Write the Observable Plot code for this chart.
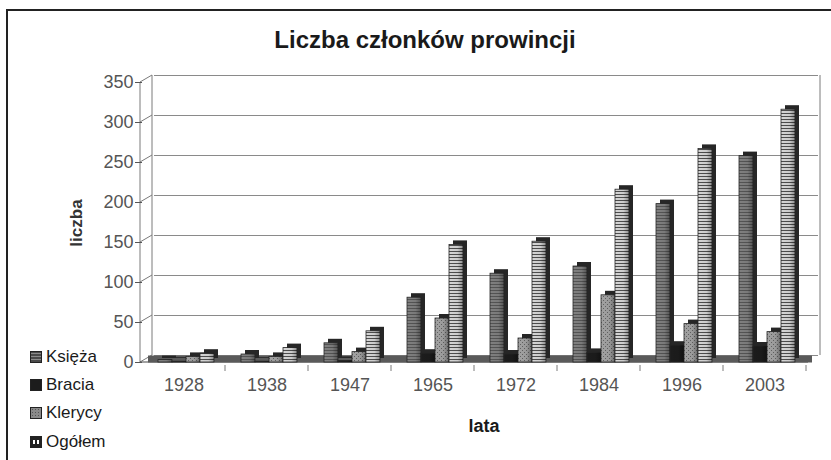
<!DOCTYPE html>
<html>
<head>
<meta charset="utf-8">
<script src="https://cdn.jsdelivr.net/npm/d3@7"></script>
<script src="https://cdn.jsdelivr.net/npm/@observablehq/plot@0.6"></script>
<style>
html,body{margin:0;padding:0;background:#fff;}
#wrap{position:relative;width:831px;height:460px;overflow:hidden;font-family:"Liberation Sans",Arial,Helvetica,sans-serif;}
#frame{position:absolute;left:6px;top:9px;width:900px;height:600px;border-left:2px solid #222;border-top:2px solid #222;}
#chart{position:absolute;left:0;top:0;}
.abs{position:absolute;line-height:1;white-space:nowrap;}
#title{left:0;width:850px;top:28px;text-align:center;font-weight:bold;font-size:24px;color:#1a1a1a;}
#xlab{left:484px;top:417px;transform:translateX(-50%);font-weight:bold;font-size:18px;color:#1a1a1a;}
#ylab{left:76px;top:223px;transform:translate(-50%,-50%) rotate(-90deg);font-weight:bold;font-size:17px;color:#333;}
.leg{left:30px;font-size:17px;color:#1a1a1a;}
.sw{display:inline-block;width:12px;height:12px;margin-right:4px;vertical-align:-1px;box-sizing:border-box;border:1px solid #222;}
</style>
</head>
<body>
<svg width="0" height="0" style="position:absolute">
  <defs>
    <pattern id="pK" width="4" height="3" patternUnits="userSpaceOnUse">
      <rect width="4" height="3" fill="#808080"/>
      <rect y="2" width="4" height="1" fill="#555555"/>
    </pattern>
    <pattern id="pKl" width="4" height="4" patternUnits="userSpaceOnUse">
      <rect width="4" height="4" fill="#a2a2a2"/>
      <rect x="0" y="0" width="1" height="1" fill="#626262"/>
      <rect x="2" y="2" width="1" height="1" fill="#626262"/>
    </pattern>
    <pattern id="pO" width="4" height="3" patternUnits="userSpaceOnUse">
      <rect width="4" height="3" fill="#d6d6d6"/>
      <rect y="2" width="4" height="1" fill="#4e4e4e"/>
    </pattern>
    <linearGradient id="shade" x1="0" x2="1" y1="0" y2="0">
      <stop offset="0" stop-color="#000" stop-opacity="0"/>
      <stop offset="0.6" stop-color="#000" stop-opacity="0.05"/>
      <stop offset="1" stop-color="#000" stop-opacity="0.35"/>
    </linearGradient>
  </defs>
</svg>
<div id="wrap">
  <div id="frame"></div>
  <div id="chart"></div>
  <div id="title" class="abs">Liczba członków prowincji</div>
  <div id="ylab" class="abs">liczba</div>
  <div id="xlab" class="abs">lata</div>
  <div id="legend"></div>
</div>
<script>
// ---- data ----
const years = ["1928", "1938", "1947", "1965", "1972", "1984", "1996", "2003"];
const series = ["Księża", "Bracia", "Klerycy", "Ogółem"];
const ksieza  = [3, 10, 24, 81, 111, 120, 198, 258];
const bracia  = [1, 1, 2, 11, 10, 12, 21, 20];
const klerycy = [7, 7, 13, 55, 30, 84, 48, 38];
const ogolem  = [11, 18, 39, 147, 151, 216, 267, 316];
const yTicks  = [0, 50, 100, 150, 200, 250, 300, 350];

const seriesValues = [ksieza, bracia, klerycy, ogolem];
const fills = ["url(#pK)", "#1c1c1c", "url(#pKl)", "url(#pO)"];
const legendSwatch = [
  "background-color:#4a4a4a;background-image:repeating-linear-gradient(0deg,#4a4a4a 0 2px,#8a8a8a 2px 3px),repeating-linear-gradient(90deg,transparent 0 2px,#8a8a8a 2px 3px);",
  "background-color:#1c1c1c;",
  "background-color:#8a8a8a;background-image:radial-gradient(#555 30%,transparent 35%);background-size:3px 3px;",
  "background-color:#222;background-image:linear-gradient(90deg,transparent 0 2px,#fff 2px 4px,#222 4px 6px,#fff 6px 8px,transparent 8px);background-size:10px 4px;background-position:0 3px;background-repeat:no-repeat;"
];

const data = years.flatMap((yr, i) =>
  series.map((s, j) => ({year: yr, series: s, value: seriesValues[j][i]}))
);

const plot = Plot.plot({
  width: 831,
  height: 460,
  marginLeft: 140,
  marginRight: 23,
  marginTop: 82,
  marginBottom: 98,
  style: {fontFamily: "Liberation Sans, Arial, sans-serif", fontSize: "18px", color: "#555", background: "transparent", overflow: "visible"},
  fx: {domain: years, padding: 0, axis: "bottom", tickSize: 0, tickPadding: 16, label: null},
  x: {domain: series, axis: null, paddingInner: 0, paddingOuter: 0.78},
  y: {domain: [0, 350], ticks: yTicks, tickSize: 7, tickPadding: 2, label: null},
  color: {domain: series, range: fills},
  marks: [
    Plot.ruleY(yTicks, {dx: 12, dy: -7, stroke: "#8a8a8a", strokeWidth: 1}),
    Plot.ruleY([0], {dx: 6, dy: -3.5, stroke: "#5a5a5a", strokeWidth: 7}),
    Plot.barY(data, {fx: "year", x: "series", y: "value", fill: "#262626", dx: 6, dy: -4}),
    Plot.barY(data, {fx: "year", x: "series", y: "value", fill: "series", stroke: "#262626", strokeWidth: 0.8, dx: 2}),
    Plot.barY(data, {fx: "year", x: "series", y: "value", fill: "url(#shade)", dx: 2})
  ]
});
document.getElementById("chart").appendChild(plot);

// 3D frame decorations derived from the plot's scales
const fxs = plot.scale("fx"), ys = plot.scale("y");
const X0 = fxs.range[0], X1 = fxs.range[1];
const Y0 = ys.apply(0), Ytop = ys.apply(350);
const svg = d3.select(plot);
const g = svg.insert("g", ":first-child").attr("stroke", "#7a7a7a").attr("fill", "none");
g.append("line").attr("x1", X0).attr("x2", X0).attr("y1", Y0).attr("y2", Ytop);
g.append("line").attr("x1", X0 + 12).attr("x2", X0 + 12).attr("y1", Y0 - 7).attr("y2", Ytop - 7);
g.append("line").attr("x1", X1 + 12).attr("x2", X1 + 12).attr("y1", Y0 - 7).attr("y2", Ytop - 7);
yTicks.forEach(t => {
  g.append("line").attr("x1", X0).attr("x2", X0 + 12).attr("y1", ys.apply(t)).attr("y2", ys.apply(t) - 7);
});
const bw = fxs.bandwidth;
years.forEach(yr => {
  const xr = fxs.apply(yr) + bw;
  g.append("line").attr("x1", xr).attr("x2", xr).attr("y1", Y0 + 3).attr("y2", Y0 + 9);
});
g.append("line").attr("x1", X0).attr("x2", X1).attr("y1", Y0).attr("y2", Y0).attr("stroke", "#444");

// legend
const leg = document.getElementById("legend");
const baselines = [362, 390, 418.5, 447];
series.forEach((s, j) => {
  const d = document.createElement("div");
  d.className = "abs leg";
  d.style.top = (baselines[j] - 14.4) + "px";
  d.innerHTML = `<span class="sw" style="${legendSwatch[j]}"></span>${s}`;
  leg.appendChild(d);
});
</script>
</body>
</html>
